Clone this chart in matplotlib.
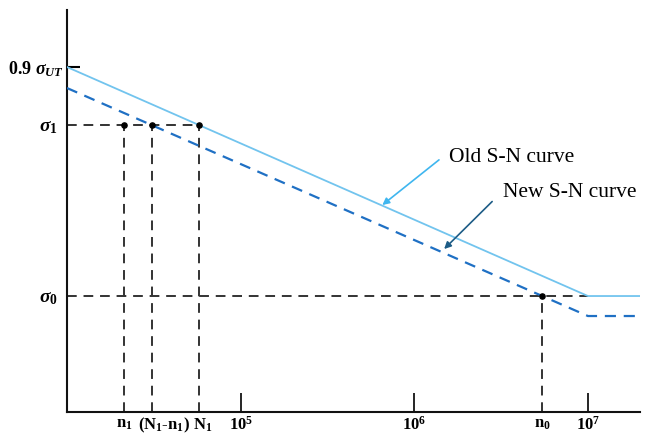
import matplotlib
matplotlib.use('Agg')
import matplotlib.pyplot as plt
import matplotlib.transforms as mtransforms

plt.rcParams['font.family'] = ['Liberation Serif', 'DejaVu Serif']
plt.rcParams['mathtext.fontset'] = 'custom'
plt.rcParams['mathtext.rm'] = 'Liberation Serif:bold'
plt.rcParams['mathtext.bf'] = 'Liberation Serif:bold'
plt.rcParams['mathtext.it'] = 'Liberation Serif:italic:bold'

# x in log10(cycles), y in arbitrary stress units
old_x = [4.0, 7.0, 7.3]
old_y = [345, 116, 116]
new_x = [4.0, 7.0, 7.3]
new_y = [324, 96, 96]

sigma_ut = 345
sigma_1 = 287
sigma_0 = 116

n1 = 4.328
N1_minus_n1 = 4.487
N1 = 4.760
n0 = 6.737

major_x = [5, 6, 7]
major_x_labels = [r'$\mathbf{10^5}$', r'$\mathbf{10^6}$', r'$\mathbf{10^7}$']
minor_x = [n1, N1_minus_n1, N1, n0]
minor_x_labels = [r'$\mathbf{n_1}$', r'$\mathbf{(N_1}$-$\mathbf{n_1)}$',
                  r'$\mathbf{N_1}$', r'$\mathbf{n_0}$']

fig = plt.figure(figsize=(6.53, 4.36), dpi=100)
ax = fig.add_axes([0.1026, 0.055, 0.8775, 0.922])

ax.plot(old_x, old_y, color='#72c4ee', lw=1.3, zorder=3)
ax.plot(new_x, new_y, color='#1f70c4', lw=1.6, ls=(0, (5, 3.5)), zorder=3)

guide = dict(color='#333333', lw=1.4, ls=(0, (5, 3.5)), zorder=2)
ax.plot([4.0, N1], [sigma_1, sigma_1], **guide)
ax.plot([4.0, 7.0], [sigma_0, sigma_0], **guide)
for xv in [n1, N1_minus_n1, N1]:
    ax.plot([xv, xv], [0, sigma_1], **guide)
ax.plot([n0, n0], [0, sigma_0], **guide)

ax.scatter([n1, N1_minus_n1, N1, n0], [sigma_1, sigma_1, sigma_1, sigma_0],
           s=14, color='black', zorder=4)

ax.annotate('Old S-N curve', xy=(5.816, 207), xytext=(6.20, 255),
            fontsize=15.5, va='center', ha='left',
            arrowprops=dict(arrowstyle='-|>', color='#3fb6ef', lw=1.2,
                            mutation_scale=10, shrinkA=0, shrinkB=0,
                            relpos=(-0.08, 0.35)))
ax.annotate('New S-N curve', xy=(6.172, 163), xytext=(6.51, 220),
            fontsize=15.5, va='center', ha='left',
            arrowprops=dict(arrowstyle='-|>', color='#1d5c86', lw=1.2,
                            mutation_scale=10, shrinkA=0, shrinkB=0,
                            relpos=(-0.08, 0.0)))

ax.set_xlim(4.0, 7.3)
ax.set_ylim(0, 402)
for s in ['top', 'right']:
    ax.spines[s].set_visible(False)
for s in ['left', 'bottom']:
    ax.spines[s].set_linewidth(1.5)
    ax.spines[s].set_color('#111111')

ax.set_xticks(major_x, major_x_labels)
ax.set_xticks(minor_x, minor_x_labels, minor=True)
ax.set_yticks([sigma_ut], [r'0.9 $\sigma_{UT}$'])
ax.set_yticks([sigma_1, sigma_0], [r'$\sigma_1$', r'$\sigma_0$'], minor=True)

ax.tick_params(axis='x', which='major', direction='in', length=13.5,
               width=1.2, labelsize=12, pad=3)
ax.tick_params(axis='x', which='minor', length=0, labelsize=12, pad=3)
ax.tick_params(axis='y', which='major', direction='in', length=9.5,
               width=1.5, labelsize=13, pad=2)
ax.tick_params(axis='y', which='minor', length=0, labelsize=14, pad=7)
for lbl in ax.get_yticklabels():
    lbl.set_fontweight('bold')

# the (N1-n1) and N1 labels sit a little right of their lines
shifts = [0, 12, 4, 0]
for lbl, dx in zip(ax.get_xticklabels(minor=True), shifts):
    lbl.set_transform(lbl.get_transform() +
                      mtransforms.ScaledTranslation(dx / 100, 0, fig.dpi_scale_trans))

fig.savefig('out.png', dpi=100)
